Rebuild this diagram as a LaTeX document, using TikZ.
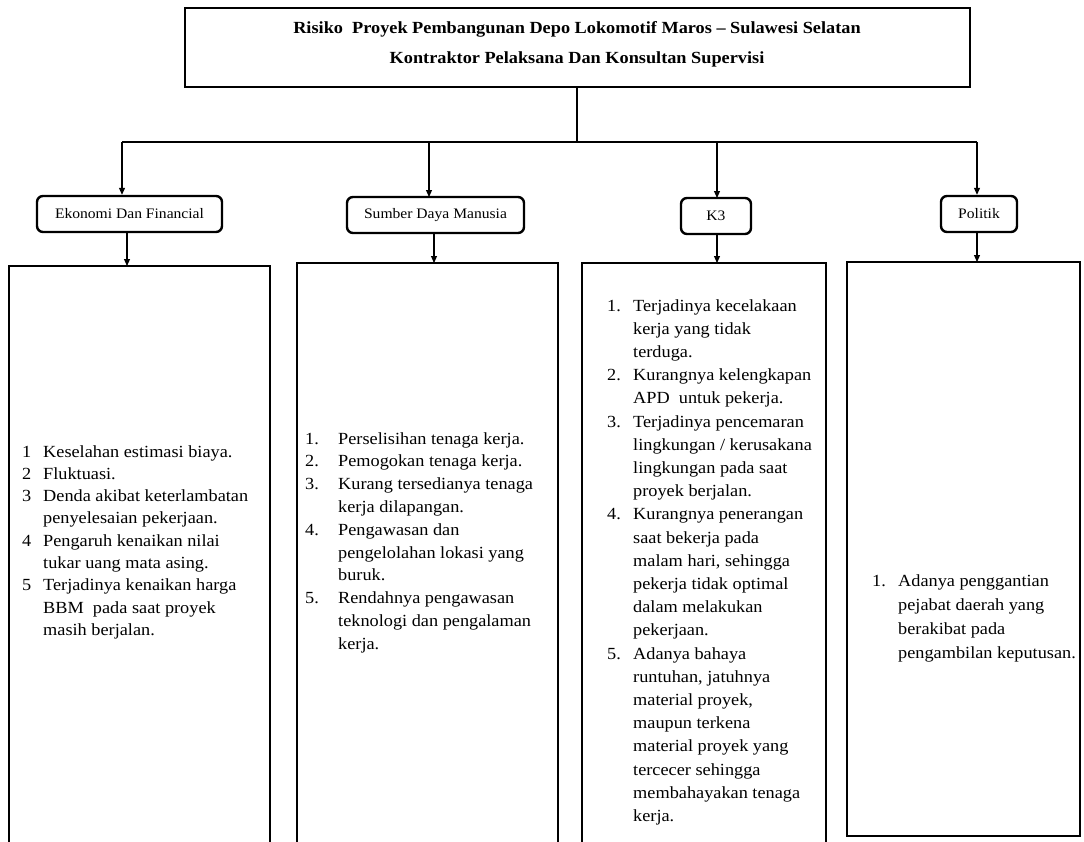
\documentclass[tikz,border=0pt]{standalone}
\usepackage{fontspec}
\setmainfont[FakeStretch=1.075]{Liberation Serif}
\usetikzlibrary{arrows.meta}
\tikzset{
  thickbox/.style={draw, line width=2.6pt},
  catbox/.style={draw, line width=2.4pt, rounded corners=6pt, minimum height=36pt, inner sep=0pt, font=\fontsize{14.5}{16}\selectfont},
  link/.style={line width=1.1pt},
  arr/.style={line width=1.1pt, -{Triangle[length=7pt,width=6pt]}},
  listtext/.style={anchor=base west, inner sep=0pt, align=left},
  headtext/.style={inner sep=0pt, font=\fontsize{17}{19}\selectfont\bfseries},
}
\newcommand\listfont[1]{\fontsize{17}{#1}\selectfont}
\begin{document}
\begin{tikzpicture}[x=1pt,y=-1pt]
\useasboundingbox (0,0) rectangle (1084,841);

% header box
\draw[thickbox] (185,8) rectangle (970,87);
\node[headtext] (title) at (577,29) {Risiko\ \ Proyek Pembangunan Depo Lokomotif Maros -- Sulawesi Selatan};
\node[headtext] (sub) at (577,59) {Kontraktor Pelaksana Dan Konsultan Supervisi};
\coordinate (hdr) at (577,88);
\coordinate (bus) at (577,142);
\coordinate (busL) at (122,142);
\coordinate (busR) at (977,142);
\draw[link] (hdr) -- (bus);
\draw[link] (busL) -- (busR);

% category boxes
\node[catbox, minimum width=185pt] (eko) at (129.5,214) {Ekonomi Dan Financial};
\node[catbox, minimum width=177pt] (sdm) at (435.5,215) {Sumber Daya Manusia};
\node[catbox, minimum width=70pt] (k3) at (716,216) {K3};
\node[catbox, minimum width=76pt] (pol) at (979,214) {Politik};

\draw[arr] (busL) -- (busL |- eko.north);
\draw[arr] (429,142) -- (429,197);
\draw[arr] (717,142) -- (717,198);
\draw[arr] (busR) -- (busR |- pol.north);

% content boxes
\draw[thickbox] (9,266) rectangle (270,850);
\draw[thickbox] (297,263) rectangle (558,850);
\draw[thickbox] (582,263) rectangle (826,850);
\draw[thickbox] (847,262) rectangle (1080,836);

\draw[arr] (127,232) -- (127,266);
\draw[arr] (434,233) -- (434,263);
\draw[arr] (717,234) -- (717,263);
\draw[arr] (977,232) -- (977,262);

% list texts
\node[listtext] (l1) at (22,457) {\listfont{22.3}\begin{tabular}[t]{@{}p{21pt}@{}l@{}}
1 & Keselahan estimasi biaya.\\
2 & Fluktuasi.\\
3 & Denda akibat keterlambatan\\
  & penyelesaian pekerjaan.\\
4 & Pengaruh kenaikan nilai\\
  & tukar uang mata asing.\\
5 & Terjadinya kenaikan harga\\
  & BBM\ \ pada saat proyek\\
  & masih berjalan.
\end{tabular}};

\node[listtext] (l2) at (305,444) {\listfont{22.8}\begin{tabular}[t]{@{}p{33pt}@{}l@{}}
1. & Perselisihan tenaga kerja.\\
2. & Pemogokan tenaga\ kerja.\\
3. & Kurang tersedianya tenaga\\
   & kerja dilapangan.\\
4. & Pengawasan dan\\
   & pengelolahan lokasi yang\\
   & buruk.\\
5. & Rendahnya pengawasan\\
   & teknologi dan pengalaman\\
   & kerja.
\end{tabular}};

\node[listtext] (l3) at (607,311) {\listfont{23.2}\begin{tabular}[t]{@{}p{26pt}@{}l@{}}
1. & Terjadinya kecelakaan\\
   & kerja yang tidak\\
   & terduga.\\
2. & Kurangnya kelengkapan\\
   & APD\ \ untuk pekerja.\\
3. & Terjadinya pencemaran\\
   & lingkungan / kerusakana\\
   & lingkungan pada saat\\
   & proyek berjalan.\\
4. & Kurangnya penerangan\\
   & saat bekerja pada\\
   & malam hari, sehingga\\
   & pekerja tidak optimal\\
   & dalam melakukan\\
   & pekerjaan.\\
5. & Adanya bahaya\\
   & runtuhan, jatuhnya\\
   & material proyek,\\
   & maupun terkena\\
   & material proyek yang\\
   & tercecer sehingga\\
   & membahayakan tenaga\\
   & kerja.
\end{tabular}};

\node[listtext] (l4) at (872,586) {\listfont{24}\begin{tabular}[t]{@{}p{26pt}@{}l@{}}
1. & Adanya penggantian\\
   & pejabat daerah yang\\
   & berakibat pada\\
   & pengambilan keputusan.
\end{tabular}};
\end{tikzpicture}
\end{document}
